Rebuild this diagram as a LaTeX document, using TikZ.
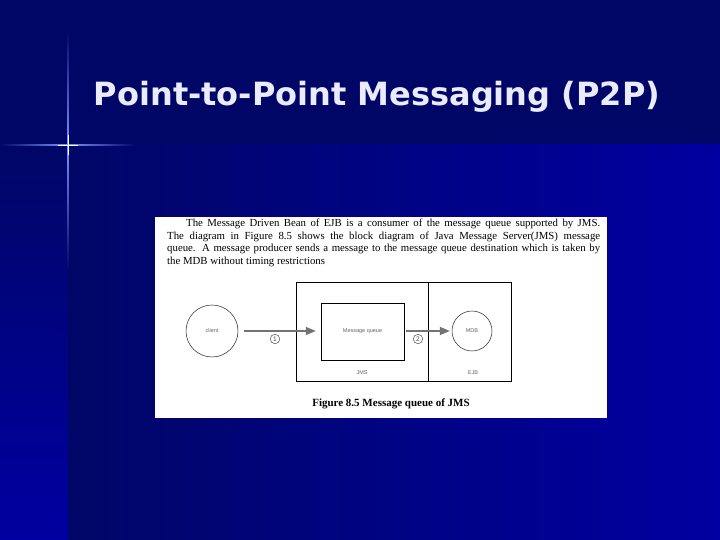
\documentclass[tikz,border=0pt]{standalone}
\usepackage{fontspec}
\setmainfont{Liberation Serif}
\setsansfont{Liberation Sans}
\newfontfamily\titlefont{DejaVu Sans}
\usetikzlibrary{shapes}
\usetikzlibrary{arrows}
\definecolor{slidedark}{RGB}{0,6,102}
\definecolor{slideblue}{RGB}{0,0,160}
\definecolor{flareblue}{RGB}{120,150,255}
\tikzset{
	title_text/.style = {
		text=white!92!blue,
		font=\titlefont\bfseries\fontsize{32}{36}\selectfont
	},
	fig_box/.style = {
		draw=black,
		line width=0.6pt,
		inner sep=0pt
	},
	tiny_label/.style = {
		inner sep=0pt,
		text=black!60,
		font=\sffamily\fontsize{5.5}{6}\selectfont
	},
	fig_circle/.style = {
		tiny_label,
		circle,
		draw=black!85,
		line width=0.5pt
	},
	num_mark/.style = {
		circle,
		draw=black!70,
		line width=0.5pt,
		inner sep=0.5pt,
		minimum size=9.5pt,
		text=black!70,
		font=\sffamily\fontsize{6.5}{7}\selectfont
	},
	msg_arrow/.style = {
		-triangle 45,
		draw=black!55,
		line width=1.3pt
	},
}
\begin{document}
\begin{tikzpicture}[x=1pt, y=-1pt]
\useasboundingbox (0,0) rectangle (720,540);
% slide background
\fill[slidedark] (0,0) rectangle (720,540);
\shade[left color=slidedark, right color=slideblue] (68,145) rectangle (720,540);
\shade[top color=slidedark, bottom color=slideblue] (0,145) rectangle (68,540);
% flare
\shade[top color=slidedark, bottom color=flareblue] (67.2,30) rectangle (68.8,145);
\shade[top color=flareblue, bottom color=slidedark] (67.2,145) rectangle (68.8,270);
\shade[left color=slidedark, right color=flareblue] (0,144.2) rectangle (68,145.8);
\shade[left color=flareblue, right color=slidedark] (68,144.2) rectangle (135,145.8);
\draw[white, line width=0.8pt] (58,145) -- (78,145) (68,135) -- (68,155);

\node[title_text] (title) at (377,97) {Point-to-Point Messaging (P2P)};

% the figure
\node[fill=white, inner sep=0pt, anchor=north west, minimum width=452pt, minimum height=201pt] (page) at (155,217) {};
\node[anchor=north west, inner sep=0pt, text width=433pt, align=justify, font=\fontsize{10.8}{12.7}\selectfont] (para) at (167,218.5) {\hspace*{19pt}The Message Driven Bean of EJB is a consumer of the message queue supported by JMS.\linebreak
The diagram in Figure 8.5 shows the block diagram of Java Message Server(JMS) message\linebreak
queue. A message producer sends a message to the message queue destination which is taken by\linebreak
the MDB without timing restrictions};

\node[fig_box, minimum width=132pt, minimum height=99pt] (jms) at (362,331.5) {};
\node[fig_box, anchor=west, minimum width=83pt, minimum height=99pt] (ejb) at (jms.east) {};
\node[fig_box, tiny_label, minimum width=83pt, minimum height=57pt] (queue) at (362.5,331.5) {Message queue};
\node[fig_circle, minimum size=52pt] (client) at (212,331) {client};
\node[fig_circle, minimum size=40pt] (mdb) at (472,331) {MDB};
\node[tiny_label] (jms_name) at (362,373) {JMS};
\node[tiny_label] (ejb_name) at (473,373) {EJB};
\node[num_mark] (one) at (275,339) {1};
\node[num_mark] (two) at (418,339) {2};
\draw[msg_arrow, shorten <=6pt, shorten >=5pt] (client.east) -- (client.east -| queue.west);
\draw[msg_arrow, shorten <=2pt, shorten >=2pt] (queue.east |- mdb.west) -- (mdb.west);

\node[font=\bfseries\fontsize{11}{13}\selectfont] (caption) at (391,404) {Figure 8.5 Message queue of JMS};
\end{tikzpicture}
\end{document}
